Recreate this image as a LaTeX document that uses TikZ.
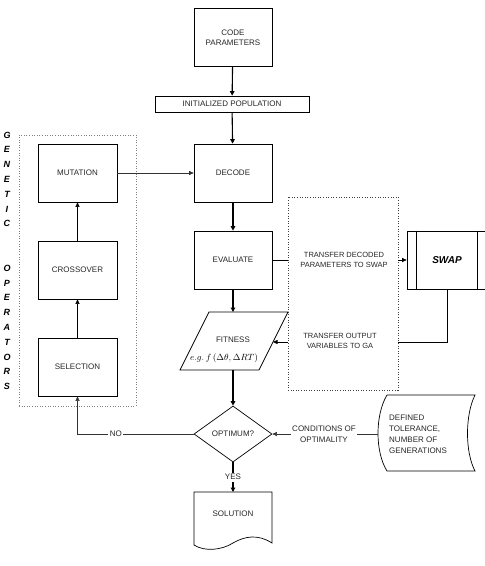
\documentclass[tikz,border=0pt]{standalone}
\usepackage{fontspec}
\setmainfont{Liberation Sans}
\usetikzlibrary{arrows.meta,shapes.geometric}
\begin{document}
\begin{tikzpicture}[x=1pt,y=-1pt,
  box/.style={draw, line width=0.7pt, minimum width=78pt, minimum height=58pt, inner sep=1pt, font=\fontsize{8}{10.5}\selectfont, align=center, text=black!85},
  lbl/.style={font=\fontsize{8}{10.5}\selectfont, align=center, inner sep=1pt, text=black!85},
  tlbl/.style={font=\fontsize{7.5}{9.5}\selectfont, align=center, inner sep=1pt, text=black!85},
  gen/.style={font=\bfseries\itshape\fontsize{9}{10}\selectfont, inner sep=0pt},
  flow/.style={draw, line width=1.1pt, -{Triangle[length=4.5pt,width=4.5pt]}},
  link/.style={draw, line width=0.6pt, -{Triangle[length=4.5pt,width=4pt]}},
  plain/.style={draw, line width=0.6pt},
  dotbox/.style={draw=black!75, line width=0.6pt, dash pattern=on 1pt off 1.6pt},
]
\useasboundingbox (0,0) rectangle (485,566);

% main column
\node[box] (code) at (233,37.5) {CODE\\PARAMETERS};
\node[box, minimum width=154pt, minimum height=16pt] (init) at (232,104) {INITIALIZED POPULATION};
\node[box] (decode) at (233,173) {DECODE};
\node[box] (eval) at (233,260) {EVALUATE};

% fitness parallelogram
\draw[line width=0.7pt] (209,312) -- (288,312) -- (259,370) -- (180,370) -- cycle;
\coordinate (fitT) at (233,312);
\coordinate (fitB) at (233,370);
\coordinate (fitR) at (273,342);
\node[lbl] (fit) at (233,340) {FITNESS};
\node[font=\fontsize{9}{10}\selectfont, inner sep=0pt] (fitf) at (224,358) {$e.g.\,f\left(\Delta\theta,\Delta RT\right)$};

% decision
\node[draw, diamond, line width=0.7pt, minimum width=78pt, minimum height=56pt, inner sep=0pt, font=\fontsize{8}{10}\selectfont, text=black!85] (opt) at (233,434) {OPTIMUM?};

% solution document
\draw[line width=0.7pt] (194,492) -- (272,492) -- (272,543)
  .. controls (258,534) and (245,536) .. (233,543)
  .. controls (222,550) and (205,552) .. (194,545) -- cycle;
\coordinate (solT) at (233,492);
\node[lbl] (sol) at (233,514) {SOLUTION};

% stored data
\draw[line width=0.7pt] (387,395) -- (475,395)
  .. controls (465,415) and (465,452) .. (475,471) -- (387,471)
  .. controls (375,452) and (375,415) .. (387,395);
\coordinate (sdL) at (378,434);
\node[font=\fontsize{8}{11}\selectfont, align=left, anchor=west, inner sep=0pt, text=black!85] (defined) at (389,434) {DEFINED\\TOLERANCE,\\NUMBER OF\\GENERATIONS};
\node[lbl] (cond) at (324,434) {CONDITIONS OF\\OPTIMALITY};

% transfer box and swap
\node[dotbox, minimum width=110pt, minimum height=193pt] (tbox) at (343,293.5) {};
\node[tlbl] (tdec) at (344,260) {TRANSFER DECODED\\PARAMETERS TO SWAP};
\node[tlbl] (tout) at (340,341) {TRANSFER OUTPUT\\VARIABLES TO GA};
\node[draw, line width=0.7pt, minimum width=80pt, minimum height=58pt, font=\bfseries\itshape\fontsize{10}{12}\selectfont] (swap) at (447,260) {SWAP};
\draw[line width=0.7pt] ([xshift=10pt]swap.north west) -- ([xshift=10pt]swap.south west);
\draw[line width=0.7pt] ([xshift=-10pt]swap.north east) -- ([xshift=-10pt]swap.south east);

% genetic operators
\node[dotbox, draw=black!50, minimum width=117pt, minimum height=271pt] (gbox) at (77.5,270.5) {};
\node[box, minimum width=79pt] (mut) at (77.5,173) {MUTATION};
\node[box, minimum width=79pt] (cross) at (77.5,270) {CROSSOVER};
\node[box, minimum width=79pt] (sel) at (77.5,367) {SELECTION};
\foreach \c [count=\i from 0] in {G,E,N,E,T,I,C}
  \node[gen] (ga\i) at (7,135+\i*14.8) {\c};
\foreach \c [count=\i from 9] in {O,P,E,R,A,T,O,R,S}
  \node[gen] (gb\i) at (7,135+\i*14.8) {\c};

% connectors
\draw[flow] (code) -- (init);
\draw[flow] (init) -- (decode);
\draw[flow] (decode) -- (eval);
\draw[flow] (eval) -- (fitT);
\draw[flow] (fitB) -- (opt.north);
\draw[flow] (opt.south) -- node[lbl, fill=white, inner sep=1.5pt] (yes) {YES} (solT);
\draw[link, draw=black!80] (opt.west) -- node[lbl, fill=white, pos=0.67, inner sep=1.5pt] (no) {NO} (sel.south |- opt.west) -- (sel.south);
\draw[link] (sel) -- (cross);
\draw[link] (cross) -- (mut);
\draw[link, draw=black!80] (mut.east) -- (decode.west);
\draw[plain] (eval.east) -- (eval.east -| tbox.west);
\draw[link] (tbox.east |- swap.west) -- (swap.west);
\draw[plain] (swap.south) |- (tbox.east |- fitR);
\draw[link] (tbox.west |- fitR) -- (fitR);
\draw[plain, draw=black!80] (sdL) -- (cond.east);
\draw[link, draw=black!80] (cond.west) -- (opt.east);
\end{tikzpicture}
\end{document}
